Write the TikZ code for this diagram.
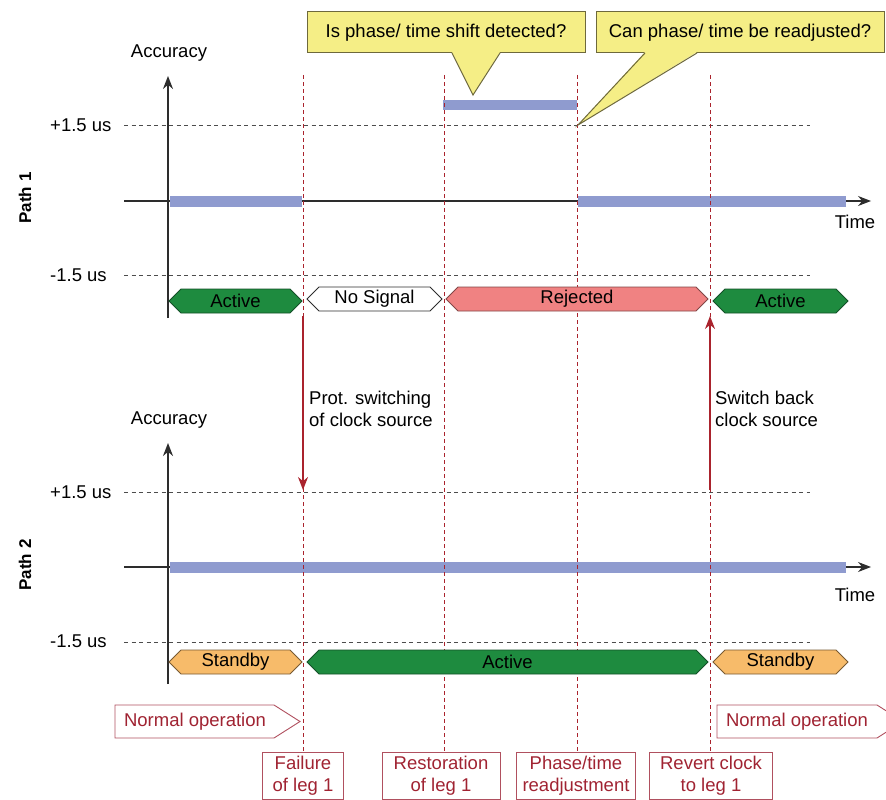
\documentclass[tikz,border=0pt]{standalone}
\usepackage{fontspec}
\setmainfont{Liberation Sans}
\usetikzlibrary{arrows.meta}
\definecolor{barblue}{RGB}{143,155,207}
\definecolor{actgreen}{RGB}{30,139,63}
\definecolor{actborder}{RGB}{20,80,40}
\definecolor{rejpink}{RGB}{240,130,130}
\definecolor{rejborder}{RGB}{130,70,70}
\definecolor{stbyorange}{RGB}{247,187,106}
\definecolor{stbyborder}{RGB}{120,90,50}
\definecolor{callyellow}{RGB}{245,238,134}
\definecolor{callborder}{RGB}{110,105,60}
\definecolor{evred}{RGB}{170,35,45}
\definecolor{boxred}{RGB}{176,80,95}
\definecolor{txtred}{RGB}{160,35,50}
\definecolor{axisgray}{RGB}{45,45,45}
\newcommand\statusbar[6]{%
  \draw[#5] (#2,#4) -- ({#2+12},{#4-12}) -- ({#3-12},{#4-12}) -- (#3,#4) -- ({#3-12},{#4+12}) -- ({#2+12},{#4+12}) -- cycle;
  \node[statustext] (#1) at ({(#2+#3)/2},#4) {#6};}
\begin{document}
\begin{tikzpicture}[x=1pt,y=-1pt,
  font=\fontsize{18.5}{22}\selectfont,
  axisarrow/.style={draw=axisgray, line width=1.8pt, -{Stealth[length=13pt,width=10pt]}},
  timearrow/.style={draw=axisgray, line width=1.1pt, -{Stealth[length=13pt,width=10pt]}},
  levelline/.style={draw=axisgray!85, line width=1pt, dash pattern=on 4pt off 3.5pt},
  eventline/.style={draw=evred, line width=0.8pt, dash pattern=on 4pt off 3pt},
  bluebar/.style={draw=none, fill=barblue},
  activebox/.style={fill=actgreen, draw=actborder, line width=0.9pt},
  rejbox/.style={fill=rejpink, draw=rejborder, line width=0.9pt},
  stbybox/.style={fill=stbyorange, draw=stbyborder, line width=0.9pt},
  nosigbox/.style={fill=white, draw=axisgray, line width=0.9pt},
  statustext/.style={inner sep=0pt, text=black},
  callout/.style={rectangle, fill=callyellow, draw=callborder, line width=1pt, inner sep=0pt, minimum height=41pt},
  redarrow/.style={draw=evred, line width=1.6pt, -{Stealth[length=13pt,width=10pt]}},
  eventbox/.style={rectangle, draw=boxred, line width=0.9pt, text=txtred, align=center, inner sep=0pt, minimum height=47pt},
  plain/.style={inner sep=0pt, text=black},
  opbox/.style={draw=boxred, line width=0.9pt, fill=white}
]
\useasboundingbox (0,0) rectangle (886,800);
\clip (0,0) rectangle (886,800);

% ---------- Path 1 ----------
\node[plain] (acc1) at (169,53) {Accuracy};
\node[plain, font=\bfseries\fontsize{17}{20}\selectfont, rotate=90] (p1) at (25,198) {Path 1};
\node[plain, anchor=west] (p1plus) at (50,125) {+1.5 us};
\node[plain, anchor=west] (p1minus) at (50,275) {-1.5 us};
\coordinate (p1pl) at (124,125); \coordinate (p1pr) at (810,125);
\coordinate (p1ml) at (124,275); \coordinate (p1mr) at (810,275);
\draw[levelline] (p1pl) -- (p1pr);
\draw[levelline] (p1ml) -- (p1mr);
\coordinate (p1ax0) at (124,201); \coordinate (p1ax1) at (871,201);
\coordinate (p1ay0) at (168,318); \coordinate (p1ay1) at (168,76);
\draw[timearrow] (p1ax0) -- (p1ax1);
\node[plain] (time1) at (855,222) {Time};
\fill[bluebar] (170,195.5) rectangle (302,206.5);
\fill[bluebar] (578,195.5) rectangle (846,206.5);
\fill[bluebar] (443,100) rectangle (577,110);

% ---------- Path 2 ----------
\node[plain] (acc2) at (169,420) {Accuracy};
\node[plain, font=\bfseries\fontsize{17}{20}\selectfont, rotate=90] (p2) at (25,565) {Path 2};
\node[plain, anchor=west] (p2plus) at (50,492) {+1.5 us};
\node[plain, anchor=west] (p2minus) at (50,641) {-1.5 us};
\coordinate (p2pl) at (124,492); \coordinate (p2pr) at (810,492);
\coordinate (p2ml) at (124,642); \coordinate (p2mr) at (810,642);
\draw[levelline] (p2pl) -- (p2pr);
\draw[levelline] (p2ml) -- (p2mr);
\coordinate (p2ax0) at (124,567); \coordinate (p2ax1) at (871,567);
\coordinate (p2ay0) at (168,684); \coordinate (p2ay1) at (168,443);
\draw[timearrow] (p2ax0) -- (p2ax1);
\node[plain] (time2) at (855,595) {Time};
\fill[bluebar] (170,562) rectangle (846,573);

% ---------- event boxes ----------
\node[eventbox, minimum width=81pt] (ev1) at (303,776) {Failure\\of leg 1};
\node[eventbox, minimum width=118pt] (ev2) at (441,776) {Restoration\\of leg 1};
\node[eventbox, minimum width=119pt] (ev3) at (576,776) {Phase/time\\readjustment};
\node[eventbox, minimum width=123pt] (ev4) at (711,776) {Revert clock\\to leg 1};
\coordinate (v1) at (303,75); \coordinate (v2) at (444,75);
\coordinate (v3) at (577,75); \coordinate (v4) at (710,75);
\draw[eventline] (v1) -- (303,752);
\draw[eventline] (v2) -- (444,752);
\draw[eventline] (v3) -- (577,752);
\draw[eventline] (v4) -- (710,752);

% axes vertical
\draw[axisarrow] (p1ay0) -- (p1ay1);
\draw[axisarrow] (p2ay0) -- (p2ay1);

% ---------- status bars ----------
\statusbar{s1a}{169}{302}{301}{activebox}{Active}
\statusbar{s1b}{307}{442}{299}{nosigbox}{No Signal}
\statusbar{s1c}{446}{708}{299}{rejbox}{Rejected}
\statusbar{s1d}{713}{848}{301}{activebox}{Active}
\statusbar{s2a}{169}{302}{662}{stbybox}{Standby}
\statusbar{s2b}{307}{708}{662}{activebox}{Active}
\statusbar{s2c}{713}{848}{662}{stbybox}{Standby}

% ---------- switching arrows ----------
\coordinate (sw1a) at (303,316); \coordinate (sw1b) at (303,490);
\draw[redarrow] (sw1a) -- (sw1b);
\node[plain, anchor=west, align=left] (sw1t) at (309,409) {Prot. switching\\of clock source};
\coordinate (sw2a) at (710,490); \coordinate (sw2b) at (710,316);
\draw[redarrow] (sw2a) -- (sw2b);
\node[plain, anchor=west, align=left] (sw2t) at (715,409) {Switch back\\clock source};

% ---------- callouts ----------
\node[callout, minimum width=278pt] (c1) at (446,32.5) {Is phase/ time shift detected?};
\coordinate (c1tip) at (473,95);
\fill[callyellow] (452,52) -- (c1tip) -- (500,52) -- cycle;
\draw[draw=callborder, line width=1pt] (452,53) -- (c1tip) -- (500,53);
\node[callout, minimum width=288pt] (c2) at (740,32.5) {Can phase/ time be readjusted?};
\coordinate (c2tip) at (578,125);
\fill[callyellow] (645,52) -- (c2tip) -- (697,52) -- cycle;
\draw[draw=callborder, line width=1pt] (645,53) -- (c2tip) -- (697,53);

% ---------- normal operation ----------
\draw[opbox] (115,705) -- (274,705) -- (300,721.5) -- (274,738) -- (115,738) -- cycle;
\node[plain, text=txtred] (no1) at (195,721.5) {Normal operation};
\draw[opbox] (717,705) -- (877,705) -- (903,721.5) -- (877,738) -- (717,738) -- cycle;
\node[plain, text=txtred] (no2) at (797,721.5) {Normal operation};
\end{tikzpicture}
\end{document}
